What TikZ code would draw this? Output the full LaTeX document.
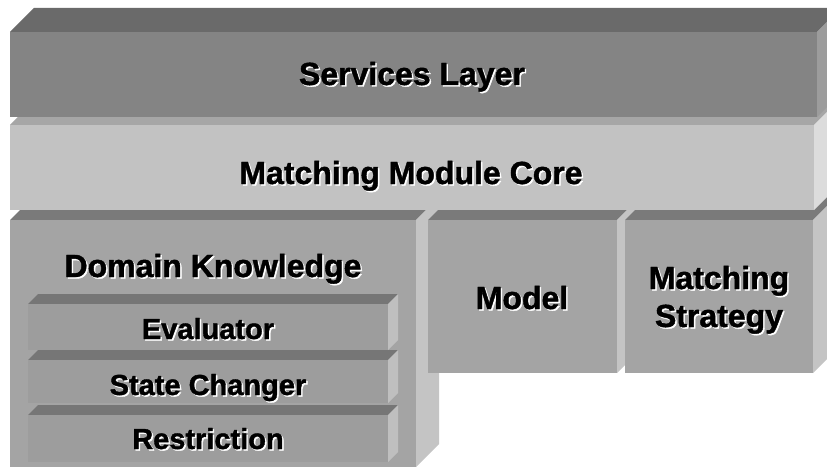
\documentclass[tikz,border=0pt]{standalone}
\usepackage{fontspec}
\setmainfont{Liberation Sans}
\newfontfamily\heavyfont[BoldFeatures={FakeBold=1.3}]{Liberation Sans}
\definecolor{svtop}{HTML}{6A6A6A}
\definecolor{svfront}{HTML}{848484}
\definecolor{svside}{HTML}{9C9C9C}
\definecolor{mmtop}{HTML}{A6A6A6}
\definecolor{mmfront}{HTML}{C2C2C2}
\definecolor{mmside}{HTML}{DCDCDC}
\definecolor{bktop}{HTML}{7A7A7A}
\definecolor{bkfront}{HTML}{A4A4A4}
\definecolor{bkside}{HTML}{C4C4C4}
\definecolor{intop}{HTML}{767676}
\definecolor{infront}{HTML}{9D9D9D}
\definecolor{inside}{HTML}{BFBFBF}
% #1 x1, #2 y1 (front top), #3 x2, #4 y2 (front bottom), #5 depth, #6 top, #7 front, #8 side
\newcommand\cubeblk[8]{%
  \fill[#6] (#1,#2) -- (#1+#5,#2-#5) -- (#3+#5,#2-#5) -- (#3,#2) -- cycle;
  \fill[#8] (#3,#2) -- (#3+#5,#2-#5) -- (#3+#5,#4-#5) -- (#3,#4) -- cycle;
  \fill[#7] (#1,#2) rectangle (#3,#4);
}
\tikzset{
  biglbl/.style={font=\heavyfont\fontsize{32}{38}\selectfont\bfseries, inner sep=0pt, anchor=base},
  smalllbl/.style={font=\heavyfont\fontsize{29}{34}\selectfont\bfseries, inner sep=0pt, anchor=base}
}
% #1 name, #2 x, #3 y (baseline), #4 style, #5 text
\newcommand\halotext[5]{%
  \node[#4, text=white] (#1-h) at (#2+1.5,#3+1.5) {#5};
  \node[#4, text=black] (#1) at (#2,#3) {#5};
}
\begin{document}
\begin{tikzpicture}[x=1pt,y=-1pt]
\useasboundingbox (0,0) rectangle (827,468);
\clip (0,0) rectangle (827,468);
\fill[white] (0,0) rectangle (827,468);
% bottom row
\cubeblk{10}{220}{416}{467}{23}{bktop}{bkfront}{bkside}
\halotext{dk}{213}{277}{biglbl}{Domain Knowledge}
\cubeblk{28}{304}{388}{350}{10}{intop}{infront}{inside}
\halotext{ev}{208}{339}{smalllbl}{Evaluator}
\cubeblk{28}{360}{388}{403}{10}{intop}{infront}{inside}
\halotext{sc}{208}{395}{smalllbl}{State Changer}
\cubeblk{28}{415}{388}{462}{10}{intop}{infront}{inside}
\halotext{re}{208}{449}{smalllbl}{Restriction}
\cubeblk{428}{220}{617}{373}{23}{bktop}{bkfront}{bkside}
\halotext{mo}{522}{309}{biglbl}{Model}
\cubeblk{625}{220}{813}{373}{23}{bktop}{bkfront}{bkside}
\halotext{msa}{719}{289}{biglbl}{Matching}
\halotext{msb}{719}{327}{biglbl}{Strategy}
% matching module core
\cubeblk{10}{125}{814}{210}{23}{mmtop}{mmfront}{mmside}
\halotext{mmc}{411}{184}{biglbl}{Matching Module Core}
% services layer
\cubeblk{10}{32}{817}{117}{24}{svtop}{svfront}{svside}
\halotext{sl}{412}{85}{biglbl}{Services Layer}
\end{tikzpicture}
\end{document}
